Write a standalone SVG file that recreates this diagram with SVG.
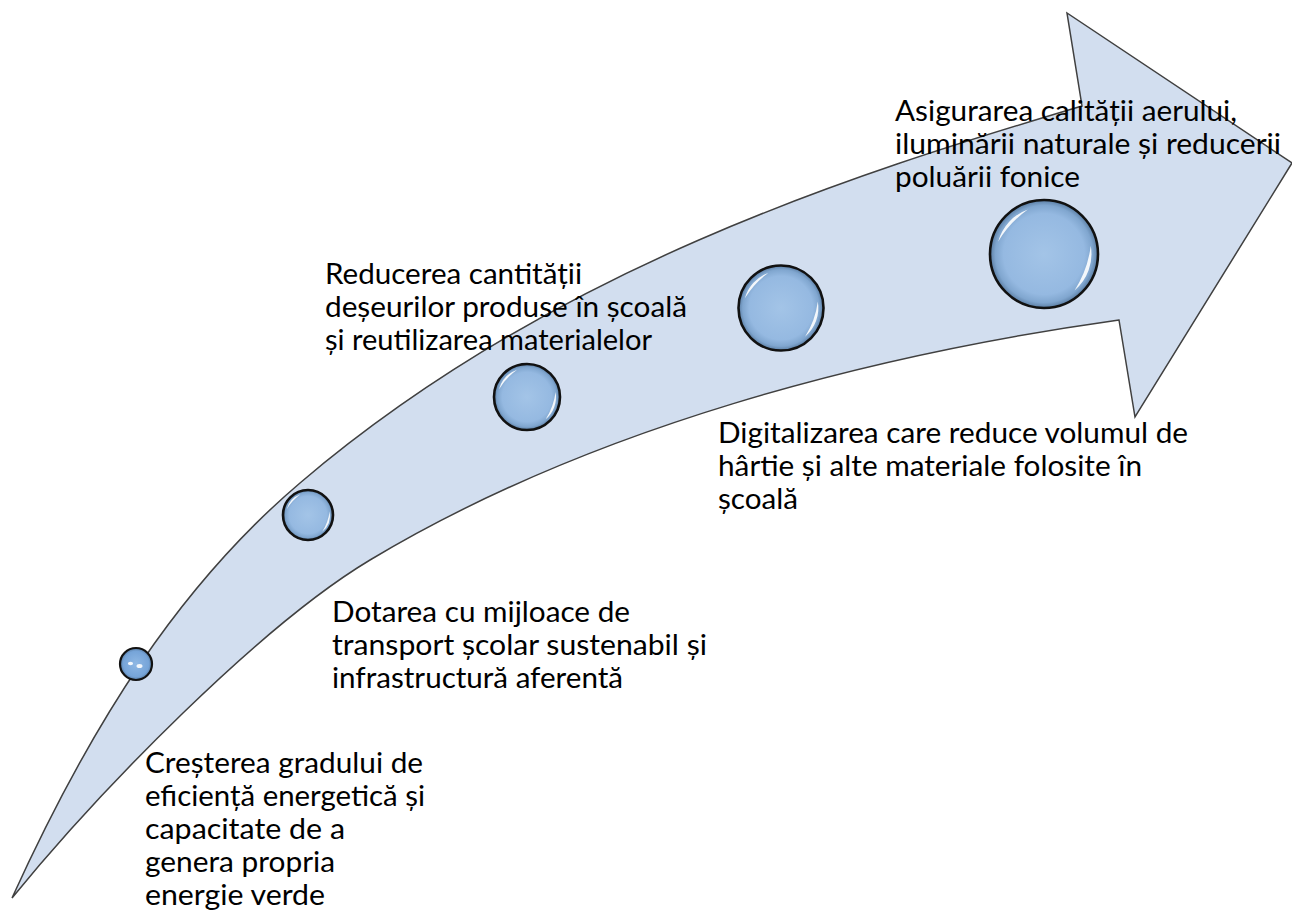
<svg xmlns="http://www.w3.org/2000/svg" xmlns:xlink="http://www.w3.org/1999/xlink" width="1292" height="918" viewBox="0 0 1292 918">
<style>
.lbl{font-family:Lato,"Open Sans","Liberation Sans",sans-serif;font-size:28px;fill:#000}
.arrow{fill:#D2DEEF;stroke:#404040;stroke-width:1.5;stroke-linejoin:miter}
.ball{fill:url(#sphere);stroke:#111;stroke-width:2.6}
.hl{fill:#fff;opacity:0.9}
</style>
<defs>
<radialGradient id="sphere" cx="50%" cy="50%" r="50%">
<stop offset="0%" stop-color="#A3C4E7"/>
<stop offset="75%" stop-color="#95B9E1"/>
<stop offset="90%" stop-color="#80A6CF"/>
<stop offset="100%" stop-color="#5A7DA3"/>
</radialGradient>
<radialGradient id="sphere1" cx="50%" cy="50%" r="50%">
<stop offset="0%" stop-color="#8FB8E4"/>
<stop offset="80%" stop-color="#76A4D8"/>
<stop offset="100%" stop-color="#55799F"/>
</radialGradient>
<g id="bubble">
<circle class="ball" cx="0" cy="0" r="50" vector-effect="non-scaling-stroke"/>
<path class="hl" d="M -42.5,-11.4 A 44 44 0 0 1 -15,-41.3 A 100 100 0 0 0 -42.5,-11.4 Z"/>
<path class="hl" d="M 43.3,-7.6 A 44 44 0 0 1 28.3,33.7 A 100 100 0 0 0 43.3,-7.6 Z"/>
</g>
</defs>
<rect width="1292" height="918" fill="#fff"/>
<g id="connectors">
<path id="arrow" class="arrow" d="M 12,898 C 92,722 180,585 300,483 C 550,270 850,175 1082,106 L 1067,13 L 1292,163 L 1135,417 L 1119,320 C 869,355 590,428 370,560 C 260,626 100,790 12,898 Z"/>
</g>
<g id="step1">
<circle cx="136" cy="664" r="16" fill="url(#sphere1)" stroke="#111" stroke-width="2.2"/>
<ellipse cx="130.5" cy="663.5" rx="2.6" ry="1.8" fill="#fff" opacity="0.9"/>
<ellipse cx="139.5" cy="666" rx="3" ry="2" fill="#fff" opacity="0.9"/>
<text class="lbl" x="145" y="773" textLength="278" lengthAdjust="spacingAndGlyphs">Creșterea gradului de</text>
<text class="lbl" x="145" y="806" textLength="280" lengthAdjust="spacingAndGlyphs">eficiență energetică și</text>
<text class="lbl" x="145" y="839" textLength="200" lengthAdjust="spacingAndGlyphs">capacitate de a</text>
<text class="lbl" x="145" y="872" textLength="190" lengthAdjust="spacingAndGlyphs">genera propria</text>
<text class="lbl" x="145" y="905" textLength="180" lengthAdjust="spacingAndGlyphs">energie verde</text>
</g>
<g id="step2">
<use xlink:href="#bubble" href="#bubble" transform="translate(308,515) scale(0.5)"/>
<text class="lbl" x="332" y="622" textLength="298" lengthAdjust="spacingAndGlyphs">Dotarea cu mijloace de</text>
<text class="lbl" x="332" y="655" textLength="375" lengthAdjust="spacingAndGlyphs">transport școlar sustenabil și</text>
<text class="lbl" x="332" y="688" textLength="291" lengthAdjust="spacingAndGlyphs">infrastructură aferentă</text>
</g>
<g id="step3">
<use xlink:href="#bubble" href="#bubble" transform="translate(527,397) scale(0.66)"/>
<text class="lbl" x="325" y="284" textLength="257" lengthAdjust="spacingAndGlyphs">Reducerea cantității</text>
<text class="lbl" x="325" y="317" textLength="362" lengthAdjust="spacingAndGlyphs">deșeurilor produse în școală</text>
<text class="lbl" x="325" y="350" textLength="327" lengthAdjust="spacingAndGlyphs">și reutilizarea materialelor</text>
</g>
<g id="step4">
<use xlink:href="#bubble" href="#bubble" transform="translate(781,308) scale(0.85)"/>
<text class="lbl" x="718" y="443" textLength="470" lengthAdjust="spacingAndGlyphs">Digitalizarea care reduce volumul de</text>
<text class="lbl" x="718" y="476" textLength="424" lengthAdjust="spacingAndGlyphs">hârtie și alte materiale folosite în</text>
<text class="lbl" x="718" y="509" textLength="80" lengthAdjust="spacingAndGlyphs">școală</text>
</g>
<g id="step5">
<use xlink:href="#bubble" href="#bubble" transform="translate(1044,254) scale(1.08)"/>
<text class="lbl" x="895" y="121" textLength="342" lengthAdjust="spacingAndGlyphs">Asigurarea calității aerului,</text>
<text class="lbl" x="895" y="154" textLength="386" lengthAdjust="spacingAndGlyphs">iluminării naturale și reducerii</text>
<text class="lbl" x="895" y="187" textLength="185" lengthAdjust="spacingAndGlyphs">poluării fonice</text>
</g>
</svg>
